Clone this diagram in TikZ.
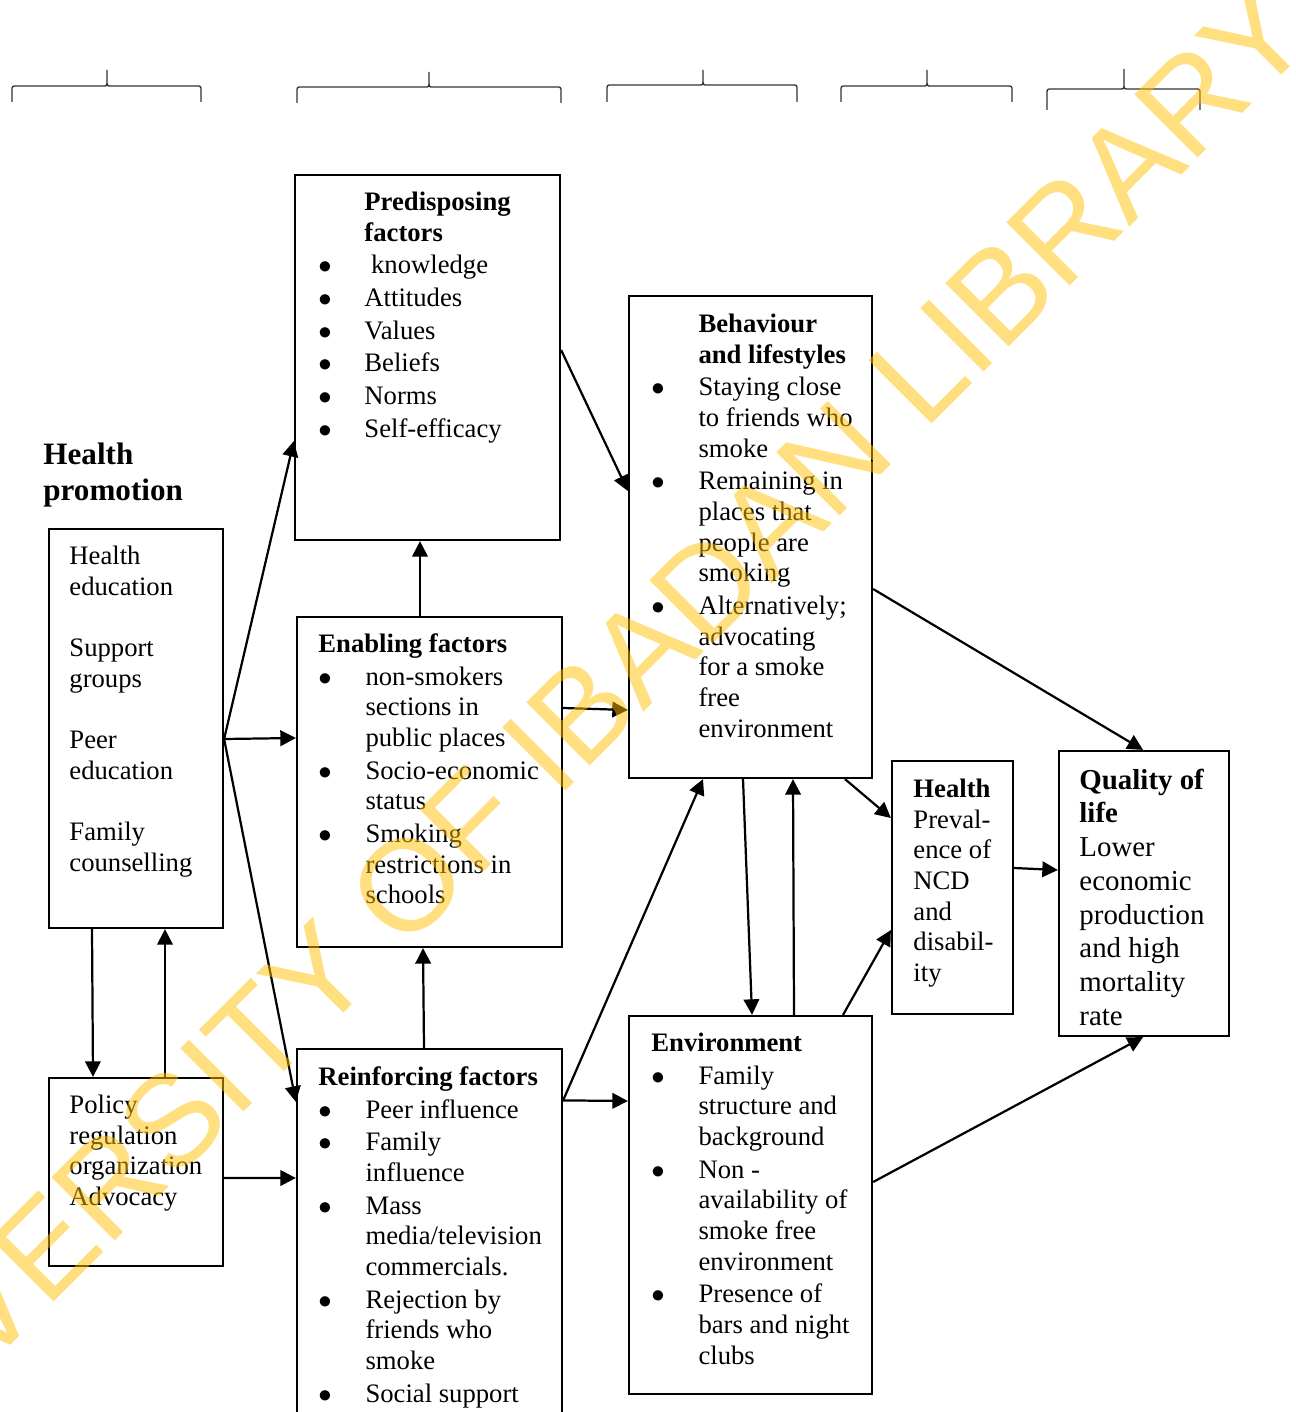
\documentclass[tikz,border=0pt]{standalone}
\usepackage{fontspec}
\setmainfont{Liberation Serif}
\newfontfamily\wmfont{Liberation Sans}
\usetikzlibrary{arrows.meta,calc,fit}
\definecolor{wmyellow}{RGB}{255,191,0}

\begin{document}
\begin{tikzpicture}[
            x=0.45pt, y=-0.45pt,
            box/.style={draw, line width=1pt, inner sep=0pt},
            txt/.style={anchor=north west, inner sep=0pt,
                font=\fontsize{12}{13.8}\selectfont},
            arr/.style={line width=1pt, -{Triangle[length=7pt,width=7pt]}},
            brace/.style={line width=0.6pt, draw=black!80},
            watermark/.style={text=wmyellow, text opacity=0.5, rotate=45,
                font=\wmfont\fontsize{58.5}{60}\selectfont}
        ]
        \useasboundingbox (0,0) rectangle (1295,1412);

        % braces over the columns
        \foreach \xl/\xr/\xm/\yl/\yb/\yt in {12/201/107/86/102/70, 297/561/429/87/103/72,
                607/797/703/85/102/70, 841/1012/927/86/102/70, 1047/1200/1124/89/110/69}
            \draw[brace] (\xl,\yb) -- (\xl,\yl+5) .. controls (\xl,\yl) .. (\xl+5,\yl)
                -- (\xm-4,\yl) .. controls (\xm,\yl) .. (\xm,\yl-6) -- (\xm,\yt)
                -- (\xm,\yl-6) .. controls (\xm,\yl) .. (\xm+4,\yl)
                -- (\xr-5,\yl) .. controls (\xr,\yl) .. (\xr,\yl+5) -- (\xr,\yb);

        % boxes
        \node[box, fit={(49,529) (223,928)}] (hp) {};
        \node[box, fit={(49,1078) (223,1266)}] (pol) {};
        \node[box, fit={(295,175) (560,540)}] (pre) {};
        \node[box, fit={(297,617) (562,947)}] (ena) {};
        \node[box, fit={(297,1049) (562,1440)}] (rei) {};
        \node[box, fit={(629,296) (872,778)}] (beh) {};
        \node[box, fit={(629,1016) (872,1394)}] (env) {};
        \node[box, fit={(892,761) (1013,1014)}] (hea) {};
        \node[box, fit={(1059,751) (1229,1036)}] (qol) {};

        % texts
        \node[txt, font=\fontsize{14}{16.2}\selectfont\bfseries] (hptitle) at (43,439)
            {\begin{tabular}{@{}l@{}}Health\\promotion\end{tabular}};
        \node[txt] (hptxt) at (69,542.5) {\begin{tabular}{@{}l@{}}
            Health\\education\\\\Support\\groups\\\\Peer\\education\\\\Family\\counselling
            \end{tabular}};
        \node[txt] (poltxt) at (69,1091.5) {\begin{tabular}{@{}l@{}}
            Policy\\regulation\\organization\\Advocacy
            \end{tabular}};
        \node[txt] (pretxt) at (318,188.5) {\begin{tabular}{@{}p{20.7pt}@{}l@{}}
            & \textbf{Predisposing}\\
            & \textbf{factors}\\[0.9pt]
            $\bullet$ & \hspace{3pt}knowledge\\[0.9pt]
            $\bullet$ & Attitudes\\[0.9pt]
            $\bullet$ & Values\\[0.9pt]
            $\bullet$ & Beliefs\\[0.9pt]
            $\bullet$ & Norms\\[0.9pt]
            $\bullet$ & Self-efficacy
            \end{tabular}};
        \node[txt] (enatxt) at (318,630.5) {\begin{tabular}{@{}p{21.2pt}@{}l@{}}
            \multicolumn{2}{@{}l@{}}{\textbf{Enabling factors}}\\[0.9pt]
            $\bullet$ & non-smokers\\ & sections in\\ & public places\\[0.9pt]
            $\bullet$ & Socio-economic\\ & status\\[0.9pt]
            $\bullet$ & Smoking\\ & restrictions in\\ & schools
            \end{tabular}};
        \node[txt] (reitxt) at (318,1063.5) {\begin{tabular}{@{}p{21.2pt}@{}l@{}}
            \multicolumn{2}{@{}l@{}}{\textbf{Reinforcing factors}}\\[0.9pt]
            $\bullet$ & Peer influence\\[0.9pt]
            $\bullet$ & Family\\ & influence\\[0.9pt]
            $\bullet$ & Mass\\ & media/television\\ & commercials.\\[0.9pt]
            $\bullet$ & Rejection by\\ & friends who\\ & smoke\\[0.9pt]
            $\bullet$ & Social support
            \end{tabular}};
        \node[txt] (behtxt) at (651,310.5) {\begin{tabular}{@{}p{21.2pt}@{}l@{}}
            & \textbf{Behaviour}\\
            & \textbf{and lifestyles}\\[0.9pt]
            $\bullet$ & Staying close\\ & to friends who\\ & smoke\\[0.9pt]
            $\bullet$ & Remaining in\\ & places that\\ & people are\\ & smoking\\[0.9pt]
            $\bullet$ & Alternatively;\\ & advocating\\ & for a smoke\\ & free\\ & environment
            \end{tabular}};
        \node[txt] (envtxt) at (651,1029.5) {\begin{tabular}{@{}p{21.2pt}@{}l@{}}
            \multicolumn{2}{@{}l@{}}{\textbf{Environment}}\\[0.9pt]
            $\bullet$ & Family\\ & structure and\\ & background\\[0.9pt]
            $\bullet$ & Non -\\ & availability of\\ & smoke free\\ & environment\\[0.9pt]
            $\bullet$ & Presence of\\ & bars and night\\ & clubs
            \end{tabular}};
        \node[txt] (heatxt) at (913,775.5) {\begin{tabular}{@{}l@{}}
            \textbf{Health}\\Preval-\\ence of\\NCD\\and\\disabil-\\ity
            \end{tabular}};
        \node[txt, font=\fontsize{13}{15.2}\selectfont] (qoltxt) at (1079,765) {\begin{tabular}{@{}l@{}}
            \textbf{Quality of}\\\textbf{life}\\Lower\\economic\\production\\and high\\mortality\\rate
            \end{tabular}};

        % connectors
        \coordinate (hpout) at ($(hp.east)+(0,10.5)$);
        \coordinate (reiout) at ($(rei.north east)+(0,52.5)$);
        \draw[arr] (hpout) -- ($(pre.west)+(0,83.5)$);
        \draw[arr] (hpout) -- ($(ena.west)+(0,-44)$);
        \draw[arr] (hpout) -- ($(rei.north west)+(0,54)$);
        \draw[arr] ($(hp.south)+(-44,0)$) -- ($(pol.north)+(-43,0)$);
        \draw[arr] ($(pol.north)+(29,0)$) -- ($(hp.south)+(29,0)$);
        \draw[arr] ($(pol.east)+(0,6)$) -- ($(rei.west)+(0,-66.5)$);
        \draw[arr] ($(ena.north)+(-9.5,0)$) -- ($(pre.south)+(-7.5,0)$);
        \draw[arr] ($(rei.north)+(-5.5,0)$) -- ($(ena.south)+(-6.5,0)$);
        \draw[arr] ($(pre.east)+(0,-7.5)$) -- ($(beh.west)+(0,-46)$);
        \draw[arr] ($(ena.east)+(0,-74)$) -- ($(beh.west)+(0,173)$);
        \draw[arr] (reiout) -- ($(beh.south)+(-47.5,0)$);
        \draw[arr] (reiout) -- ($(env.west)+(0,-104)$);
        \draw[arr] ($(beh.south)+(-7.5,0)$) -- ($(env.north)+(1.5,0)$);
        \draw[arr] ($(env.north)+(43.5,0)$) -- ($(beh.south)+(42.5,0)$);
        \draw[arr] ($(beh.south)+(94.5,0)$) -- ($(hea.west)+(0,-69.5)$);
        \draw[arr] ($(env.north)+(92.5,0)$) -- ($(hea.west)+(0,42.5)$);
        \draw[arr] ($(beh.east)+(0,52)$) -- ($(qol.north)+(-1,0)$);
        \draw[arr] ($(hea.east)+(0,-19.5)$) -- ($(qol.west)+(0,-23.5)$);
        \draw[arr] ($(env.east)+(0,-23)$) -- ($(qol.south)+(-1,0)$);

        % watermark
        \node[watermark] (wm) at (540,753) {UNIVERSITY OF IBADAN LIBRARY};
    \end{tikzpicture}
\end{document}
